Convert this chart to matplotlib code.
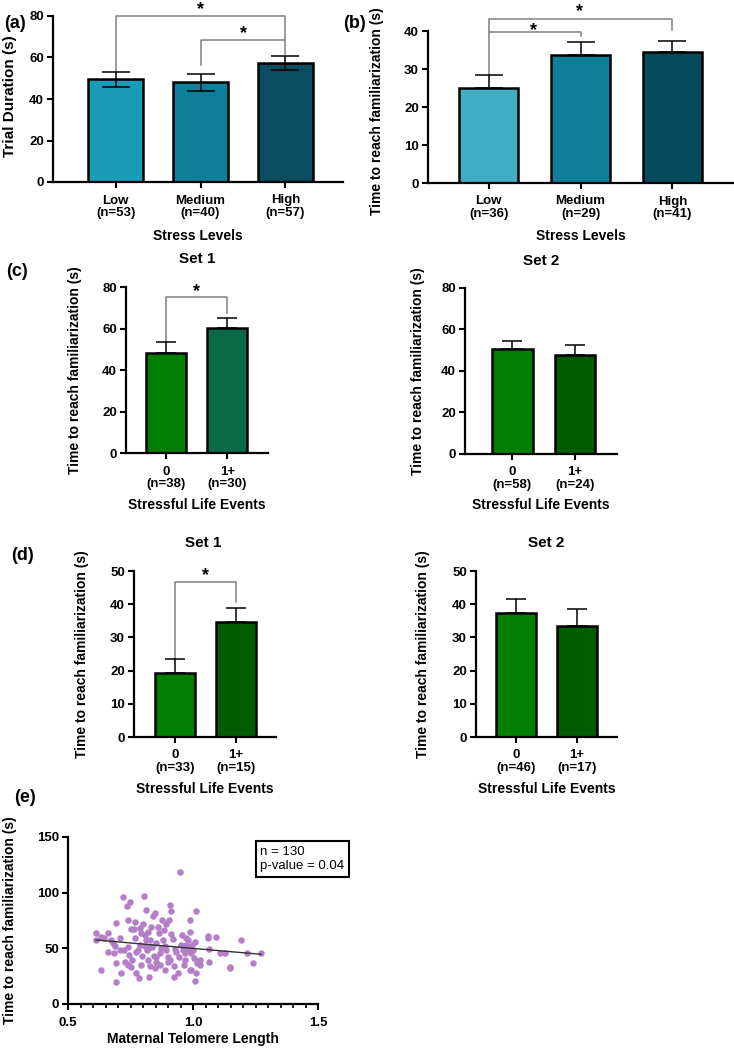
#!/usr/bin/env python
# -*- coding: utf-8 -*-

import numpy as np
import matplotlib
matplotlib.use('Agg')
from matplotlib import pyplot as plt

plt.rcParams['font.family'] = ['Liberation Sans', 'DejaVu Sans']
plt.rcParams['font.weight'] = 'bold'

# (a) trial duration by stress level
a_cats = ['Low\n(n=53)', 'Medium\n(n=40)', 'High\n(n=57)']
a_mean = [49.5, 48.0, 57.5]
a_sem = [3.5, 4.0, 3.3]

# (b) time to familiarization by stress level
b_cats = ['Low\n(n=36)', 'Medium\n(n=29)', 'High\n(n=41)']
b_mean = [25.0, 33.6, 34.5]
b_sem = [3.3, 3.5, 3.0]

# (c) stressful life events, set 1 / set 2
c1_cats = ['0\n(n=38)', '1+\n(n=30)']
c1_mean = [48.0, 60.3]
c1_sem = [5.3, 4.7]
c2_cats = ['0\n(n=58)', '1+\n(n=24)']
c2_mean = [50.5, 47.8]
c2_sem = [4.1, 4.8]

# (d) stressful life events, set 1 / set 2
d1_cats = ['0\n(n=33)', '1+\n(n=15)']
d1_mean = [19.4, 34.5]
d1_sem = [4.1, 4.3]
d2_cats = ['0\n(n=46)', '1+\n(n=17)']
d2_mean = [37.3, 33.4]
d2_sem = [4.4, 5.1]

# significance brackets: (x1, x2, top, left end, right end)
a_brackets = [(0, 2, 80, 53.5, 68.4), (1, 2, 68.4, 56.4, 61.5)]
a_stars = [(1.0, 85.3), (1.51, 73.6)]
b_brackets = [(0, 1, 39.8, 28.6, 38.7), (0, 2, 43.2, 39.8, 40.2)]
b_stars = [(0.49, 41.3), (0.99, 46.2)]
c1_brackets = [(0, 1, 75, 53.3, 67.7)]
c1_stars = [(0.5, 79.7)]
d1_brackets = [(0, 1, 46.6, 23.5, 40.7)]
d1_stars = [(0.5, 50.0)]

# (e) maternal telomere length vs time to familiarization
telomere = [0.613, 0.611, 0.631, 0.644, 0.66, 0.633, 0.66, 0.673, 0.68, 0.687,
            0.684, 0.693, 0.691, 0.691, 0.707, 0.713, 0.72, 0.723, 0.727, 0.737,
            0.747, 0.74, 0.744, 0.74, 0.751, 0.757, 0.763, 0.767, 0.767, 0.773,
            0.78, 0.784, 0.787, 0.787, 0.793, 0.8, 0.797, 0.804, 0.807, 0.807,
            0.813, 0.82, 0.817, 0.82, 0.823, 0.827, 0.827, 0.829, 0.833, 0.84,
            0.847, 0.843, 0.847, 0.851, 0.853, 0.86, 0.864, 0.867, 0.871, 0.877,
            0.88, 0.883, 0.887, 0.889, 0.891, 0.9, 0.904, 0.909, 0.913, 0.913,
            0.909, 0.92, 0.923, 0.924, 0.927, 0.933, 0.94, 0.947, 0.944, 0.953,
            0.96, 0.967, 0.969, 0.971, 0.973, 0.976, 0.98, 0.984, 0.987, 0.989,
            0.987, 0.993, 0.993, 0.997, 1.003, 1.007, 1.011, 1.009, 1.013, 1.017,
            1.02, 1.027, 1.027, 1.06, 1.06, 1.064, 1.064, 1.093, 1.107, 1.127,
            1.147, 1.149, 1.193, 1.216, 1.24, 1.273,
            0.813, 0.837, 0.893, 0.9, 0.853, 0.74, 0.71, 0.773, 0.957, 1.0,
            0.963, 0.867, 0.793, 0.753]
fam_time = [64.2, 57.6, 60.6, 59.4, 63.6, 30.6, 47.1, 57.6, 54.6, 52.5,
            45.6, 72.6, 37.2, 20.1, 59.1, 27.6, 96, 48.6, 38.1, 87.6,
            91.2, 75.6, 44.1, 35.1, 67.5, 39.6, 67.2, 74.1, 59.1, 27.6,
            48.6, 23.1, 68.7, 53.1, 63.6, 72, 43.2, 96.6, 52.2, 62.1,
            84, 65.1, 48.6, 39.6, 24.6, 57.6, 51.6, 34.2, 69.6, 78.6,
            81.6, 43.5, 32.1, 38.1, 54.6, 69.6, 63.6, 45.6, 50.1, 75.6,
            57.6, 66.6, 52.2, 30.6, 72, 42.6, 75.6, 89.1, 83.1, 63,
            39.6, 58.2, 34.5, 24.6, 49.5, 46.5, 27.6, 119, 42.6, 53.1,
            48.6, 39.6, 45.6, 59.1, 53.1, 48.6, 57.6, 51.6, 65.1, 75.6,
            30.6, 45.6, 30.6, 53.1, 41.1, 20.7, 83.1, 55.5, 27.6, 36.6,
            38.1, 39.6, 35.1, 61.5, 59.1, 49.5, 38.1, 60.0, 46.2, 46.2,
            33.6, 32.1, 57.3, 46.2, 37.2, 46.2,
            57.6, 51.6, 48.6, 38.1, 42.3, 51.6, 48.6, 47.1, 62.1, 48.6,
            35, 35.1, 35.1, 33.6]

W, H = 734, 1050
fig = plt.figure(figsize=(W / 100, H / 100), dpi=100)


def px_axes(left, right, top, bottom):
    # axes rectangle from pixel edges
    return fig.add_axes([left / W, 1 - bottom / H, (right - left) / W, (bottom - top) / H])


def style(ax):
    for s in ['top', 'right']:
        ax.spines[s].set_visible(False)
    for s in ['left', 'bottom']:
        ax.spines[s].set_linewidth(1.6)
    ax.tick_params(direction='out', length=4.5, width=1.5, labelsize=9.5, pad=2)
    ax.tick_params(axis='x', pad=4.5)


def bar_panel(ax, cats, means, sem, colors, xlim, ylim, yticks, ylabel, ylab_x, xlabel, xlab_y,
              both=False, capsize=7, brackets=(), stars=(), ylab_size=10, ylab_y=0.5):
    x = np.arange(len(cats))
    ax.bar(x, means, width=0.65, color=colors, edgecolor='black', linewidth=1.8, zorder=2)
    lower = sem if both else [0] * len(sem)
    ax.errorbar(x, means, yerr=[lower, sem], fmt='none', ecolor='black', elinewidth=1.1,
                capsize=capsize, capthick=1.1, zorder=3)
    for x1, x2, top, y1, y2 in brackets:
        ax.plot([x1, x1, x2, x2], [y1, top, top, y2], color='#808080', lw=1.1,
                clip_on=False, zorder=1)
    for sx, sy in stars:
        ax.annotate('*', (sx, sy), xytext=(0, -3), textcoords='offset points',
                    ha='center', va='center', fontsize=13, fontweight='bold',
                    annotation_clip=False)
    ax.set_xlim(*xlim)
    ax.set_ylim(*ylim)
    ax.set_yticks(yticks)
    ax.set_xticks(x)
    ax.set_xticklabels(cats)
    for t in ax.get_xticklabels():
        t.set_linespacing(1.05)
    style(ax)
    ax.set_ylabel(ylabel, fontsize=ylab_size, fontweight='bold')
    ax.yaxis.set_label_coords(ylab_x, ylab_y)
    ax.set_xlabel(xlabel, fontsize=10, fontweight='bold')
    ax.xaxis.set_label_coords(0.5, xlab_y)


fam_label = 'Time to reach familiarization (s)'

ax = px_axes(53, 343, 16, 182)
bar_panel(ax, a_cats, a_mean, a_sem, ['#1a9bb6', '#0e7f98', '#0a4c60'], (-0.74, 2.68), (0, 80),
          [0, 20, 40, 60, 80], 'Trial Duration (s)', -0.125, 'Stress Levels', -0.283,
          both=True, capsize=10, brackets=a_brackets, stars=a_stars, ylab_size=11, ylab_y=0.52)

ax = px_axes(428, 733, 31, 183)
bar_panel(ax, b_cats, b_mean, b_sem, ['#3fadc3', '#0e7f98', '#064b5b'], (-0.66, 2.66), (0, 40),
          [0, 10, 20, 30, 40], fam_label, -0.144, 'Stress Levels', -0.303,
          capsize=10, brackets=b_brackets, stars=b_stars, ylab_y=0.47)

ax = px_axes(126, 268, 287, 453)
bar_panel(ax, c1_cats, c1_mean, c1_sem, ['#007f00', '#0a6a48'], (-0.66, 1.67), (0, 80),
          [0, 20, 40, 60, 80], fam_label, -0.31, 'Stressful Life Events', -0.271,
          brackets=c1_brackets, stars=c1_stars)
ax.text(0.5, 1.169, 'Set 1', transform=ax.transAxes, ha='center', va='center', fontsize=11)

ax = px_axes(465, 617, 288, 454)
bar_panel(ax, c2_cats, c2_mean, c2_sem, ['#007f00', '#005c00'], (-0.75, 1.67), (0, 80),
          [0, 20, 40, 60, 80], fam_label, -0.263, 'Stressful Life Events', -0.265)
ax.text(0.5, 1.163, 'Set 2', transform=ax.transAxes, ha='center', va='center', fontsize=11)

ax = px_axes(134, 276, 571, 737)
bar_panel(ax, d1_cats, d1_mean, d1_sem, ['#007f00', '#005c00'], (-0.67, 1.66), (0, 50),
          [0, 10, 20, 30, 40, 50], fam_label, -0.317, 'Stressful Life Events', -0.271,
          brackets=d1_brackets, stars=d1_stars)
ax.text(0.49, 1.169, 'Set 1', transform=ax.transAxes, ha='center', va='center', fontsize=11)

ax = px_axes(476, 617, 571, 737)
bar_panel(ax, d2_cats, d2_mean, d2_sem, ['#007f00', '#005c00'], (-0.66, 1.66), (0, 50),
          [0, 10, 20, 30, 40, 50], fam_label, -0.326, 'Stressful Life Events', -0.271)
ax.text(0.5, 1.169, 'Set 2', transform=ax.transAxes, ha='center', va='center', fontsize=11)

# (e) scatter with linear fit
ax = px_axes(68, 318, 837, 1004)
tx = np.array(telomere)
ty = np.array(fam_time)
ax.scatter(tx, ty, s=22, color='#b47fc8', linewidths=0, zorder=2)
slope, icept = np.polyfit(tx, ty, 1)
xx = np.array([tx.min(), tx.max()])
ax.plot(xx, slope * xx + icept, color='#333333', lw=1.0, zorder=3)
ax.set_xlim(0.5, 1.5)
ax.set_ylim(0, 150)
ax.set_xticks([0.5, 1.0, 1.5])
ax.set_xticklabels(['0.5', '1.0', '1.5'])
ax.set_xticks(np.arange(0.55, 1.5, 0.05), minor=True)
ax.set_yticks([0, 50, 100, 150])
style(ax)
ax.tick_params(axis='x', which='minor', direction='out', length=3, width=1.2)
ax.set_ylabel(fam_label, fontsize=10, fontweight='bold')
ax.yaxis.set_label_coords(-0.204, 0.5)
ax.set_xlabel('Maternal Telomere Length', fontsize=10, fontweight='bold')
ax.xaxis.set_label_coords(0.5, -0.168)
ax.text(0.77, 0.868, 'n = 130\np-value = 0.04', transform=ax.transAxes, ha='left', va='center',
        fontsize=9.5, fontweight='normal', linespacing=1.3,
        bbox=dict(boxstyle='square,pad=0.35', facecolor='white', edgecolor='black', linewidth=1.5))

# panel letters
for lab, px, py in [('(a)', 15, 23), ('(b)', 354, 23), ('(c)', 17, 272), ('(d)', 23, 556), ('(e)', 25, 797)]:
    fig.text(px / W, 1 - py / H, lab, ha='center', va='center', fontsize=13, fontweight='bold')

fig.savefig('out.png', dpi=100)
